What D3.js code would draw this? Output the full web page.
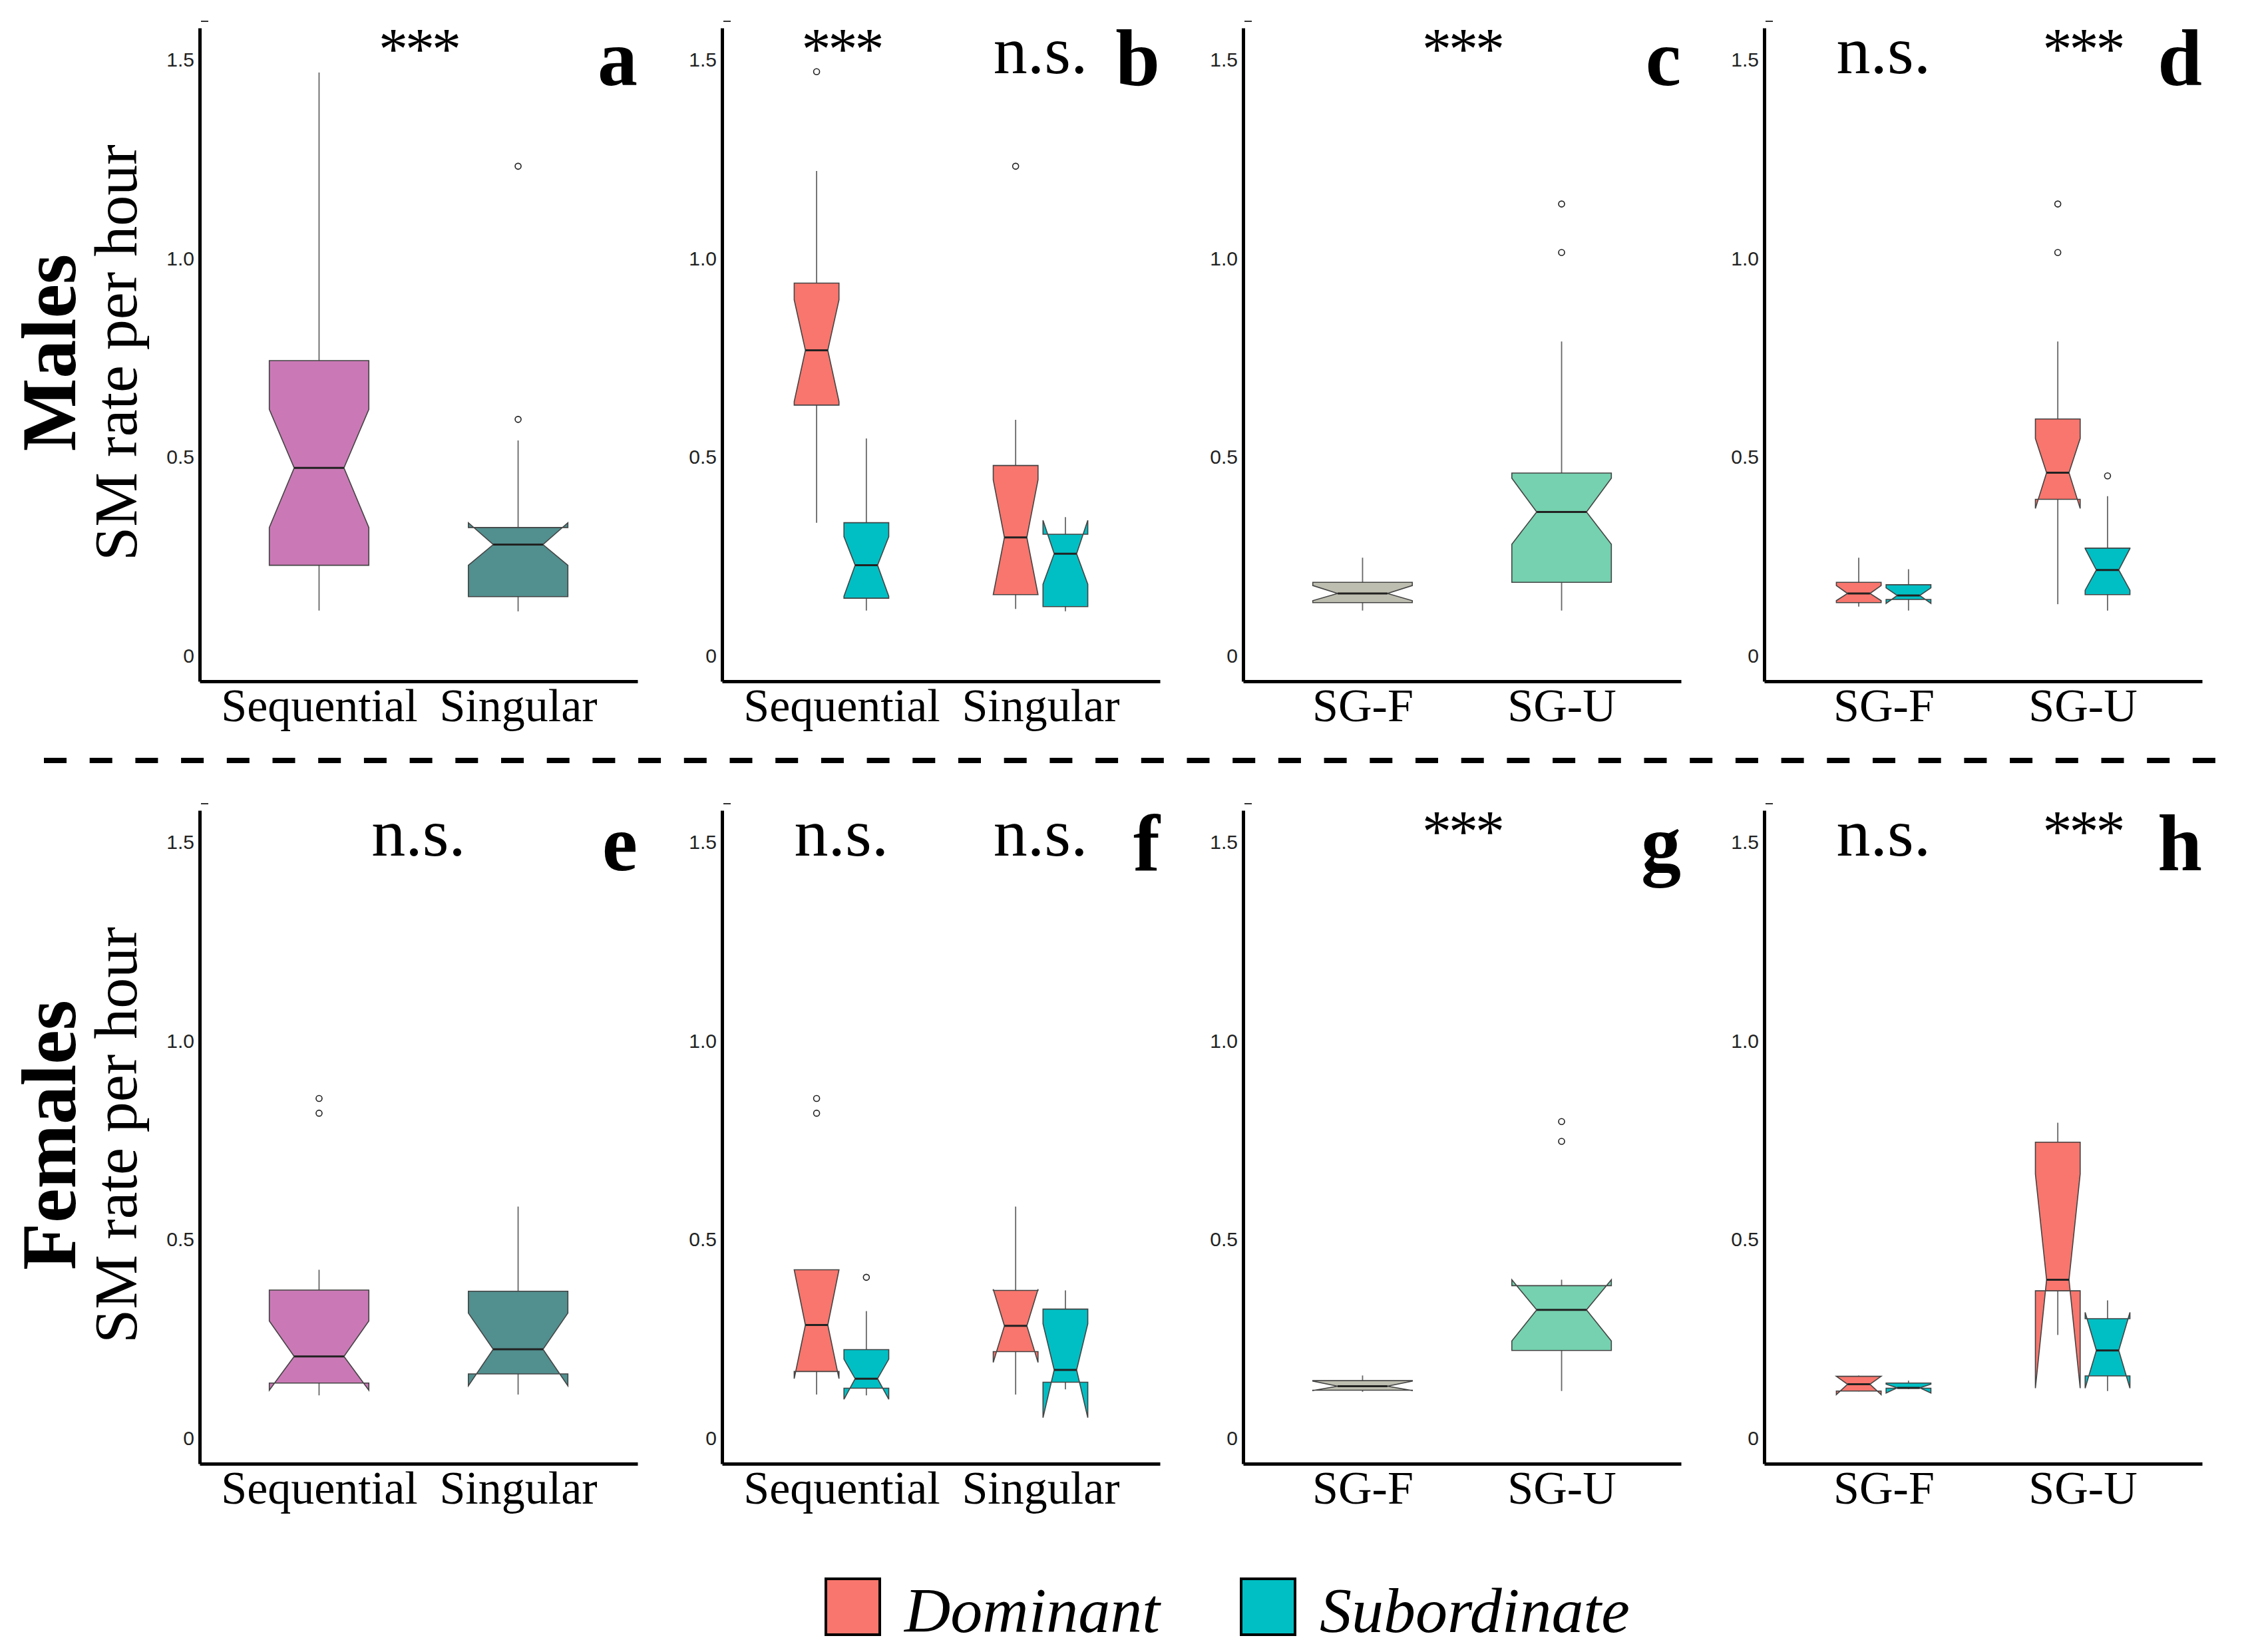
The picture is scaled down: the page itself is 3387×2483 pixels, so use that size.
<!DOCTYPE html>
<html>
<head>
<meta charset="utf-8">
<script src="https://cdn.jsdelivr.net/npm/d3@7"></script>
<style>
  body { margin: 0; background: #fff; }
  svg text { font-family: 'Liberation Serif', 'DejaVu Serif', serif; }
</style>
</head>
<body>
<svg id="chart"></svg>
<script>
const width = 3387
const height = 2483

// categories
const mateTypes = ['Sequential', 'Singular']
const sgTypes = ['SG-F', 'SG-U']
const ranks = ['Dominant', 'Subordinate']
const yTicks = [0, 0.5, 1.0, 1.5]

// box stats: [lower whisker, lower hinge, median, upper hinge, upper whisker, notch low, notch high]
const malesByType = [
    { cat: 'Sequential', stats: [0.114, 0.228, 0.473, 0.743, 1.468, 0.323, 0.620], out: [] },
    { cat: 'Singular', stats: [0.112, 0.149, 0.280, 0.323, 0.542, 0.228, 0.335], out: [0.595, 1.232] }
]
const malesByTypeRank = [
    { cat: 'Sequential', rank: 'Dominant', stats: [0.335, 0.631, 0.769, 0.938, 1.220, 0.640, 0.896], out: [1.470] },
    { cat: 'Sequential', rank: 'Subordinate', stats: [0.114, 0.145, 0.228, 0.335, 0.547, 0.150, 0.300], out: [] },
    { cat: 'Singular', rank: 'Dominant', stats: [0.118, 0.154, 0.298, 0.479, 0.594, 0.154, 0.443], out: [1.232] },
    { cat: 'Singular', rank: 'Subordinate', stats: [0.112, 0.124, 0.257, 0.306, 0.349, 0.180, 0.341], out: [] }
]
const malesBySG = [
    { cat: 'SG-F', stats: [0.114, 0.134, 0.157, 0.185, 0.247, 0.139, 0.177], out: [] },
    { cat: 'SG-U', stats: [0.114, 0.185, 0.362, 0.460, 0.791, 0.281, 0.447], out: [1.015, 1.137] }
]
const malesBySGRank = [
    { cat: 'SG-F', rank: 'Dominant', stats: [0.124, 0.134, 0.157, 0.185, 0.247, 0.139, 0.177], out: [] },
    { cat: 'SG-F', rank: 'Subordinate', stats: [0.114, 0.142, 0.152, 0.179, 0.218, 0.132, 0.171], out: [] },
    { cat: 'SG-U', rank: 'Dominant', stats: [0.130, 0.394, 0.461, 0.596, 0.791, 0.371, 0.547], out: [1.015, 1.137] },
    { cat: 'SG-U', rank: 'Subordinate', stats: [0.114, 0.154, 0.216, 0.271, 0.402, 0.165, 0.270], out: [0.453] }
]
const femalesByType = [
    { cat: 'Sequential', stats: [0.108, 0.139, 0.206, 0.373, 0.424, 0.121, 0.295], out: [0.818, 0.855] },
    { cat: 'Singular', stats: [0.110, 0.162, 0.224, 0.370, 0.583, 0.132, 0.315], out: [] }
]
const femalesByTypeRank = [
    { cat: 'Sequential', rank: 'Dominant', stats: [0.110, 0.168, 0.285, 0.424, 0.424, 0.150, 0.424], out: [0.818, 0.855] },
    { cat: 'Sequential', rank: 'Subordinate', stats: [0.108, 0.126, 0.150, 0.223, 0.320, 0.098, 0.199], out: [0.405] },
    { cat: 'Singular', rank: 'Dominant', stats: [0.110, 0.218, 0.283, 0.372, 0.583, 0.191, 0.375], out: [] },
    { cat: 'Singular', rank: 'Subordinate', stats: [0.123, 0.141, 0.172, 0.325, 0.372, 0.052, 0.288], out: [] }
]
const femalesBySG = [
    { cat: 'SG-F', stats: [0.117, 0.121, 0.131, 0.145, 0.158, 0.120, 0.144], out: [] },
    { cat: 'SG-U', stats: [0.119, 0.221, 0.323, 0.384, 0.399, 0.245, 0.399], out: [0.747, 0.797] }
]
const femalesBySGRank = [
    { cat: 'SG-F', rank: 'Dominant', stats: [0.118, 0.119, 0.136, 0.156, 0.158, 0.110, 0.156], out: [] },
    { cat: 'SG-F', rank: 'Subordinate', stats: [0.124, 0.126, 0.127, 0.139, 0.145, 0.114, 0.136], out: [] },
    { cat: 'SG-U', rank: 'Dominant', stats: [0.260, 0.371, 0.399, 0.745, 0.794, 0.126, 0.665], out: [] },
    { cat: 'SG-U', rank: 'Subordinate', stats: [0.119, 0.157, 0.221, 0.301, 0.347, 0.126, 0.317], out: [] }
]

// significance labels, 'at' is the position on the category axis (1 = first)
const sigA = [{ label: '***', at: 1.5 }]
const sigB = [{ label: '***', at: 1 }, { label: 'n.s.', at: 2 }]
const sigC = [{ label: '***', at: 1.5 }]
const sigD = [{ label: 'n.s.', at: 1 }, { label: '***', at: 2 }]
const sigE = [{ label: 'n.s.', at: 1.5 }]
const sigF = [{ label: 'n.s.', at: 1 }, { label: 'n.s.', at: 2 }]
const sigG = [{ label: '***', at: 1.5 }]
const sigH = [{ label: 'n.s.', at: 1 }, { label: '***', at: 2 }]

const rowLabels = ['Males', 'Females']

const fillColor = {
    'Sequential': '#CA79B6',
    'Singular': '#528F8F',
    'SG-F': '#BEBEB0',
    'SG-U': '#75D1AF',
    'Dominant': '#F8766D',
    'Subordinate': '#00BFC4'
}

const panels = [
    { id: 'a', row: 0, col: 0, cats: mateTypes, boxes: malesByType, sig: sigA },
    { id: 'b', row: 0, col: 1, cats: mateTypes, boxes: malesByTypeRank, sig: sigB },
    { id: 'c', row: 0, col: 2, cats: sgTypes, boxes: malesBySG, sig: sigC },
    { id: 'd', row: 0, col: 3, cats: sgTypes, boxes: malesBySGRank, sig: sigD },
    { id: 'e', row: 1, col: 0, cats: mateTypes, boxes: femalesByType, sig: sigE },
    { id: 'f', row: 1, col: 1, cats: mateTypes, boxes: femalesByTypeRank, sig: sigF },
    { id: 'g', row: 1, col: 2, cats: sgTypes, boxes: femalesBySG, sig: sigG },
    { id: 'h', row: 1, col: 3, cats: sgTypes, boxes: femalesBySGRank, sig: sigH }
]

// layout
const colX = [300, 1085, 1868, 2651]
const panelW = 658
const rowTop = [42, 1218]
const rowBottom = [1024, 2200]
const rowShift = [0, 1176]

const svg = d3.select('#chart')
    .attr('width', width)
    .attr('height', height)
    .attr('viewBox', [0, 0, width, height])

const line = d3.line()

panels.forEach(p => {
    const x0 = colX[p.col]
    const sh = rowShift[p.row]
    const g = svg.append('g').attr('class', 'panel-' + p.id)

    const y = d3.scaleLinear()
        .domain([-0.064, 1.58])
        .range([rowBottom[p.row], rowTop[p.row]])

    const x = d3.scalePoint()
        .domain(p.cats)
        .range([x0, x0 + panelW])
        .padding(0.6)

    const step = x.step()
    const dodge = p.boxes[0].rank !== undefined
    const bw = dodge ? 0.225 * step : 0.5 * step
    const cx = d => x(d.cat) + (dodge ? (d.rank === 'Dominant' ? -0.125 : 0.125) * step : 0)

    // axes
    g.append('g')
        .attr('transform', `translate(${x0},0)`)
        .call(d3.axisLeft(y).tickValues(yTicks).tickSize(0).tickPadding(8)
            .tickFormat(d => d === 0 ? '0' : d3.format('.1f')(d)))
        .call(g => g.select('.domain').attr('stroke', '#000').attr('stroke-width', 5))
        .call(g => g.selectAll('text')
            .attr('fill', '#222')
            .style('font-family', "'Liberation Sans', Arial, sans-serif")
            .style('font-size', '30px'))

    g.append('g')
        .attr('transform', `translate(0,${rowBottom[p.row]})`)
        .call(d3.axisBottom(x).tickSize(0).tickPadding(10))
        .call(g => g.select('.domain').attr('stroke', '#000').attr('stroke-width', 5))
        .call(g => g.selectAll('text')
            .attr('fill', '#000')
            .style('font-size', '70px'))

    // little stub at the top of the y axis
    g.append('line')
        .attr('x1', x0 + 2).attr('x2', x0 + 13)
        .attr('y1', rowTop[p.row] - 10).attr('y2', rowTop[p.row] - 10)
        .attr('stroke', '#333').attr('stroke-width', 2)

    const box = g.append('g')
        .selectAll('g')
        .data(p.boxes)
        .join('g')

    // whiskers
    box.append('line')
        .attr('x1', cx).attr('x2', cx)
        .attr('y1', d => y(d.stats[3])).attr('y2', d => y(d.stats[4]))
        .attr('stroke', '#666').attr('stroke-width', 1.8)
    box.append('line')
        .attr('x1', cx).attr('x2', cx)
        .attr('y1', d => y(d.stats[1])).attr('y2', d => y(d.stats[0]))
        .attr('stroke', '#666').attr('stroke-width', 1.8)

    // notched box
    box.append('path')
        .attr('d', d => {
            const [lw, lh, md, uh, uw, nl, nu] = d.stats
            const xl = cx(d) - bw / 2
            const xr = cx(d) + bw / 2
            const ind = bw / 4
            return line([
                [xl, y(uh)], [xl, y(nu)], [xl + ind, y(md)], [xl, y(nl)], [xl, y(lh)],
                [xr, y(lh)], [xr, y(nl)], [xr - ind, y(md)], [xr, y(nu)], [xr, y(uh)]
            ]) + 'Z'
        })
        .attr('fill', d => fillColor[d.rank || d.cat])
        .attr('stroke', '#444')
        .attr('stroke-width', 1.6)
        .attr('stroke-linejoin', 'miter')

    // median
    box.append('line')
        .attr('x1', d => cx(d) - bw / 4).attr('x2', d => cx(d) + bw / 4)
        .attr('y1', d => y(d.stats[2])).attr('y2', d => y(d.stats[2]))
        .attr('stroke', '#222').attr('stroke-width', 3)

    // outliers
    box.selectAll('circle')
        .data(d => d.out.map(v => ({ v, cx: cx(d) })))
        .join('circle')
        .attr('cx', d => d.cx)
        .attr('cy', d => y(d.v))
        .attr('r', 4.5)
        .attr('fill', 'none')
        .attr('stroke', '#222')
        .attr('stroke-width', 1.6)

    // significance labels
    g.selectAll('text.sig')
        .data(p.sig)
        .join('text')
        .attr('class', 'sig')
        .attr('x', d => x(p.cats[0]) + (d.at - 1) * step)
        .attr('y', d => d.label === '***' ? 103 + sh : 110 + sh)
        .attr('text-anchor', 'middle')
        .style('font-size', d => d.label === '***' ? '88px' : '102px')
        .style('letter-spacing', d => d.label === '***' ? '-4px' : '0px')
        .text(d => d.label)

    // panel letter
    g.append('text')
        .attr('x', x0 + panelW)
        .attr('y', 128 + sh + (p.row ? 4 : 0))
        .attr('text-anchor', 'end')
        .style('font-size', '120px')
        .style('font-weight', 'bold')
        .text(p.id)
})

// row titles
rowLabels.forEach((lab, i) => {
    const cy = 530 + rowShift[i]
    svg.append('text')
        .attr('transform', `translate(113,${cy}) rotate(-90)`)
        .attr('text-anchor', 'middle')
        .style('font-size', '116px')
        .style('font-weight', 'bold')
        .text(lab)
    svg.append('text')
        .attr('transform', `translate(205,${cy}) rotate(-90)`)
        .attr('text-anchor', 'middle')
        .style('font-size', '92px')
        .text('SM rate per hour')
})

// dashed separator
svg.append('line')
    .attr('x1', 66).attr('x2', 3336)
    .attr('y1', 1143).attr('y2', 1143)
    .attr('stroke', '#000')
    .attr('stroke-width', 8)
    .attr('stroke-dasharray', '34 34.7')

// legend
const legendX = [1241, 1865]
const legend = svg.append('g')
    .selectAll('g')
    .data(ranks)
    .join('g')
    .attr('transform', (d, i) => `translate(${legendX[i]},2373)`)
legend.append('rect')
    .attr('width', 81).attr('height', 84)
    .attr('fill', d => fillColor[d])
    .attr('stroke', '#000')
    .attr('stroke-width', 4)
legend.append('text')
    .attr('x', 118)
    .attr('y', 80)
    .style('font-size', '96px')
    .style('font-style', 'italic')
    .text(d => d)
</script>
</body>
</html>
